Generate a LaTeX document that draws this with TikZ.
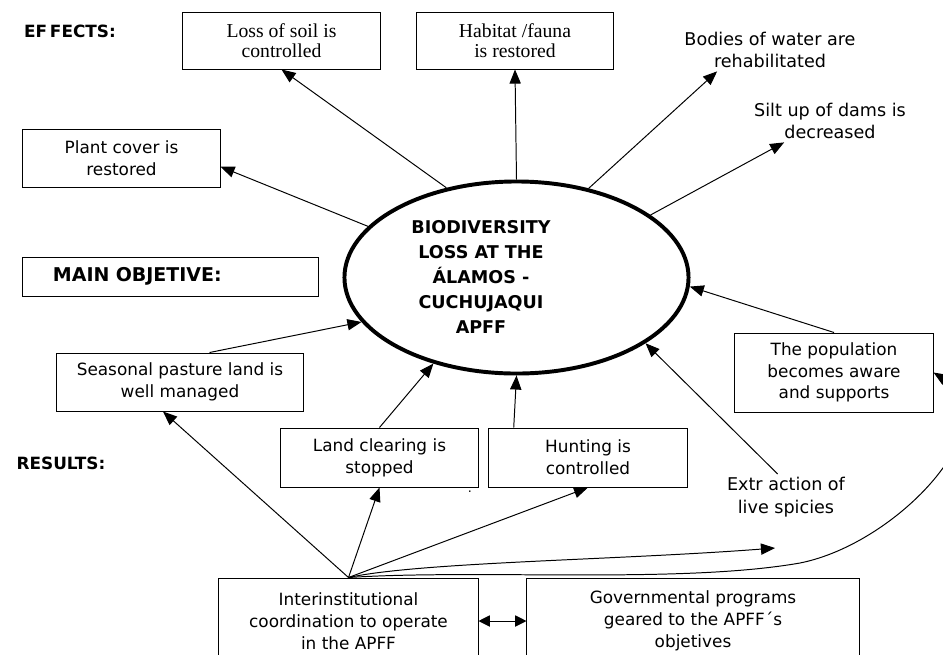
\documentclass[tikz,border=0pt]{standalone}
\usepackage{fontspec}
\usepackage{tikz}
\usetikzlibrary{arrows.meta,shapes.geometric}
\setmainfont{DejaVu Sans}
\newfontfamily\timesfont{Liberation Serif}

\begin{document}
\begin{tikzpicture}[x=0.025cm,y=-0.025cm,line width=0.7pt,
  >={Triangle[length=10pt,width=8pt]},
  box/.style={draw,align=center,inner sep=0pt,font=\fontsize{12}{15.5}\selectfont},
  effect/.style={box,font=\timesfont\fontsize{14}{14}\selectfont},
  free/.style={align=center,inner sep=2pt,font=\fontsize{12.5}{16}\selectfont},
  heading/.style={font=\fontsize{12}{14}\selectfont\bfseries}]
\useasboundingbox (0,0) rectangle (943,654);

\node[heading]   (E) at (70,31)         {EF\,FECTS:};
\node[heading]   (R) at (61,463)        {RESULTS:};

\node[effect,minimum width=4.925cm,minimum height=1.425cm] (L) at (281.5,40.5) {Loss of soil is\\controlled};
\node[effect,minimum width=4.925cm,minimum height=1.425cm] (H) at (515,40.5)   {Habitat /fauna\\is restored};
\node[box,minimum width=4.925cm,minimum height=1.45cm]     (P) at (121.5,158)  {Plant cover is\\restored};
\node[free]      (W) at (770,50)        {Bodies of water are\\rehabilitated};
\node[free]      (D) at (830,121)       {Silt up of dams is\\decreased};

\node[draw,minimum height=0.975cm,text width=5.875cm,inner xsep=0.75cm,align=left,
      font=\fontsize{13.5}{15}\selectfont\bfseries] (M) at (170.5,276.5) {MAIN OBJETIVE:};

\node[draw,ellipse,line width=2.8pt,minimum width=8.6cm,minimum height=4.8cm] (B) at (516.5,277.5) {};
\node[align=center,font=\fontsize{12.5}{17.7}\selectfont\bfseries] (T) at (481,277)
  {BIODIVERSITY\\LOSS AT THE\\ÁLAMOS -\\CUCHUJAQUI\\APFF};

\node[box,minimum width=6.15cm,minimum height=1.45cm]   (S) at (180,382)     {Seasonal pasture land is\\well managed};
\node[box,minimum width=4.925cm,minimum height=1.475cm] (C) at (379.5,457.5) {Land clearing is\\stopped};
\node[box,minimum width=4.95cm,minimum height=1.475cm]  (U) at (588,457.5)   {Hunting is\\controlled};
\node[box,minimum width=4.95cm,minimum height=1.975cm]  (A) at (834,372.5)   {The population\\becomes aware\\and supports};
\node[free]      (X) at (786,497)       {Extr action of\\live spicies};
\node[inner sep=0pt,font=\small] (Q) at (470,492) {.};
\coordinate      (Xe) at (775,548);

\node[box,minimum width=6.475cm,minimum height=2.15cm]  (I) at (348.5,621)   {Interinstitutional\\coordination to operate\\in the APFF};
\node[box,minimum width=8.3cm,minimum height=2.15cm]    (G) at (693,621)     {Governmental programs\\geared to the APFF´s\\objetives};

% effects
\path[->]
  (B.128) edge (L.south)
  (B.161) edge (P.-5)
  (B.north) edge (H.south)
  (B.51) edge (W.202)
  (B.25) edge (D.205);

% results
\path[->]
  (S.45) edge (B.196)
  (C.north) edge (B.226)
  (U.158) edge (B.south)
  (A.north) edge (B.-3)
  (X.110) edge (B.-27)
  (I.north) edge (S.240)
  (I.north) edge (C.south)
  (I.north) edge (U.south);

\draw[->] (I.north) .. controls (420,562) and (620,560) .. (Xe);
\draw[->] (I.north) .. controls (480,569) and (680,584) .. (800,563)
                    .. controls (900,543) and (1010,420) .. (A.east);
\draw[<->,>={Triangle[length=8pt,width=8pt]}] (I) -- (G);
\end{tikzpicture}
\end{document}
